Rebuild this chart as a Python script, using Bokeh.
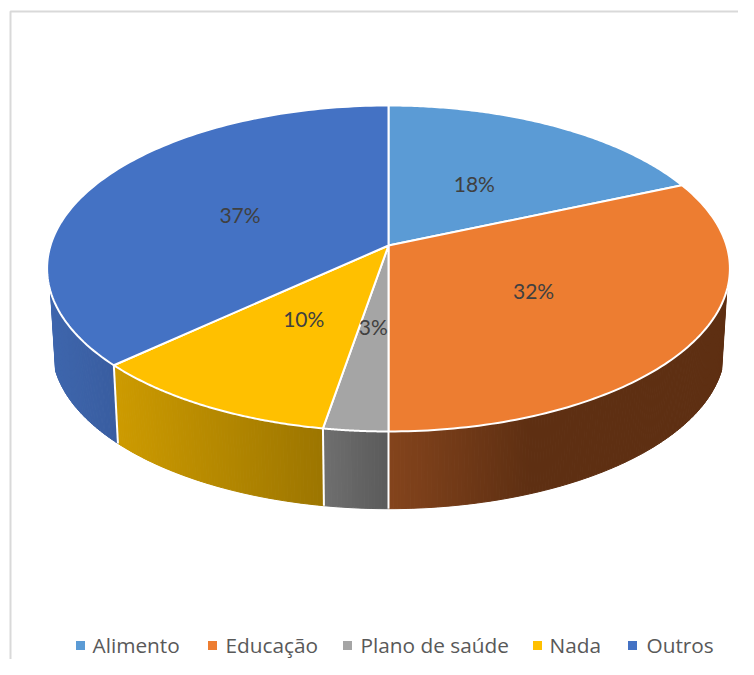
import numpy as np
from bokeh.core.properties import value
from bokeh.embed import file_html
from bokeh.models import ColumnDataSource, Range1d
from bokeh.plotting import figure
from bokeh.resources import INLINE

categories = ["Alimento", "Educação", "Plano de saúde", "Nada", "Outros"]
shares = [18.47, 31.53, 2.67, 10.47, 36.86]
labels = ["18%", "32%", "3%", "10%", "37%"]
top_colors = ["#5B9BD5", "#ED7D31", "#A5A5A5", "#FFC000", "#4472C4"]

# layout and style (the ranges below make data units equal picture pixels)
CX, CY = 388.0, 245.0
A, B, K = 159.75, 338.0, 0.141
LOW_SCALE, LOW_CY = 0.985, 325.0
VISIBLE_FROM, VISIBLE_TO = 105.7, 254.0
side_ramps = {
    1: ((388, "#84441C"), (530, "#5E2F12")),
    2: ((325, "#6E6E6E"), (388, "#5A5A5A")),
    3: ((118, "#CC9A00"), (323, "#9C7500")),
    4: ((48, "#3E66AD"), (118, "#385C9F")),
}
label_frac_x = [0.53, 0.48, 0.40, 0.45, 0.50]
label_frac_y = [0.50, 0.50, 0.45, 0.47, 0.48]
LABEL_SHIFT = -2
legend_square_x = [80, 212, 347, 537, 632]
legend_text_x = [92, 225, 360, 549, 646]
LEGEND_Y = 645


def rim(theta_deg, scale=1.0, cy=CY):
    t = np.radians(theta_deg)
    xx, yy = np.sin(t), np.cos(t)
    d = 1 + K * yy
    return CX + scale * B * xx / d, cy - scale * A * yy / d


def lerp_hex(c0, c1, f):
    f = min(max(f, 0.0), 1.0)
    a = [int(c0[i:i + 2], 16) for i in (1, 3, 5)]
    b = [int(c1[i:i + 2], 16) for i in (1, 3, 5)]
    return "#%02x%02x%02x" % tuple(round(u + (v - u) * f) for u, v in zip(a, b))


edges = np.concatenate([[0], np.cumsum(shares)]) * 3.6

p = figure(width=738, height=659, x_range=Range1d(0, 738), y_range=Range1d(659, 0),
           output_backend="svg", toolbar_location=None, min_border=0,
           background_fill_color="white", border_fill_color="white")
p.axis.visible = False
p.grid.visible = False
p.outline_line_color = None

# chart frame
p.line([10, 10, 738], [659, 11, 11], line_color="#D9D9D9", line_width=2)

# side wall as narrow strips, so the shading can run across it
xs, ys, colors = [], [], []
for i, (c0, c1) in side_ramps.items():
    lo, hi = max(edges[i], VISIBLE_FROM), min(edges[i + 1], VISIBLE_TO)
    for t0 in np.arange(lo, hi, 0.5):
        t1 = min(t0 + 0.5, hi)
        ux, uy = rim(np.array([t0, t1]))
        lx, ly = rim(np.array([t1, t0]), LOW_SCALE, LOW_CY)
        xs.append([*ux, *lx])
        ys.append([*uy, *ly])
        f = (ux.mean() - c0[0]) / (c1[0] - c0[0])
        colors.append(lerp_hex(c0[1], c1[1], f))
p.patches(xs, ys, fill_color=colors, line_color=colors, line_width=1)

# white separators on the wall
for e in edges:
    if VISIBLE_FROM < e < VISIBLE_TO:
        ux, uy = rim(e)
        lx, ly = rim(e, LOW_SCALE, LOW_CY)
        p.line([ux, lx], [uy, ly], line_color="white", line_width=2)

# top faces
fx, fy = [], []
for i in range(len(shares)):
    th = np.linspace(edges[i], edges[i + 1], 120)
    rx, ry = rim(th)
    fx.append([CX, *rx])
    fy.append([CY, *ry])
p.patches(fx, fy, fill_color=top_colors, line_color="white", line_width=2, line_join="round")

# data labels
mids = (edges[:-1] + edges[1:]) / 2
mx, my = rim(mids)
lab = ColumnDataSource(dict(
    x=CX + (mx - CX) * np.array(label_frac_x) + LABEL_SHIFT,
    y=CY + (my - CY) * np.array(label_frac_y) + LABEL_SHIFT,
    t=labels))
p.text("x", "y", text="t", source=lab, text_font=value("Lato"), text_font_size="21px",
       text_color="#404040", text_align="center", text_baseline="middle")

# legend
p.scatter(legend_square_x, [LEGEND_Y] * 5, marker="square", size=9, fill_color=top_colors, line_color=None)
leg = ColumnDataSource(dict(x=legend_text_x, y=[LEGEND_Y - 1] * 5, t=categories))
p.text("x", "y", text="t", source=leg, text_font=value("Open Sans"), text_font_size="20.8px",
       text_color="#595959", text_align="left", text_baseline="middle")

open("out.html", "w").write(file_html(p, INLINE))
